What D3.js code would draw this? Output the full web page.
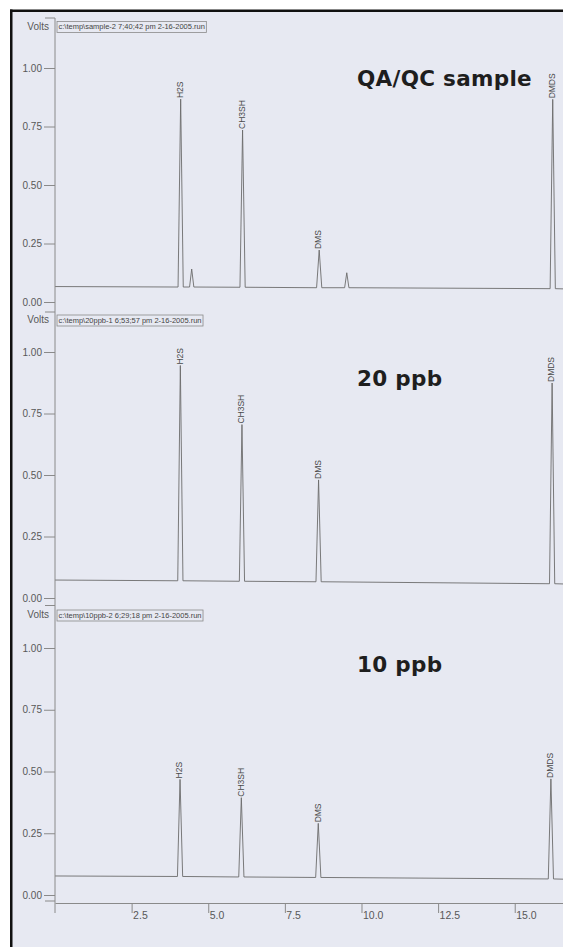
<!DOCTYPE html>
<html>
<head>
<meta charset="utf-8">
<script src="https://cdn.jsdelivr.net/npm/d3@7"></script>
<style>
  html, body { margin: 0; padding: 0; background: #fff; }
  svg { display: block; }
</style>
</head>
<body>
<svg id="chart" width="563" height="947"></svg>
<script>
// ---------------------------------------------------------------------------
// Data

const timeTicks = [2.5, 5.0, 7.5, 10.0, 12.5, 15.0];   // minutes
const voltTicks = [0, 0.25, 0.5, 0.75, 1.0];

const panelTitles = ['QA/QC sample', '20 ppb', '10 ppb'];
const runFiles = [
  'c:\\temp\\sample-2 7;40;42 pm 2-16-2005.run',
  'c:\\temp\\20ppb-1 6;53;57 pm 2-16-2005.run',
  'c:\\temp\\10ppb-2 6;29;18 pm 2-16-2005.run'
];

// baseline readings: [time, volts] at the left and right edge
const baseQA = [[0, 0.066], [16.6, 0.056]];
const base20 = [[0, 0.073], [16.6, 0.057]];
const base10 = [[0, 0.077], [16.6, 0.064]];

// peaks: label (empty = unlabeled), retention time, apex volts, foot volts
const peaksQA = [
  {name: 'H2S',   t: 4.10,  v: 0.867, foot: 0.064},
  {name: '',      t: 4.46,  v: 0.141, foot: 0.064},
  {name: 'CH3SH', t: 6.12,  v: 0.735, foot: 0.063},
  {name: 'DMS',   t: 8.62,  v: 0.222, foot: 0.061},
  {name: '',      t: 9.52,  v: 0.125, foot: 0.061},
  {name: 'DMDS',  t: 16.24, v: 0.866, foot: 0.057}
];
const peaks20 = [
  {name: 'H2S',   t: 4.09,  v: 0.945, foot: 0.070},
  {name: 'CH3SH', t: 6.10,  v: 0.705, foot: 0.068},
  {name: 'DMS',   t: 8.60,  v: 0.480, foot: 0.066},
  {name: 'DMDS',  t: 16.22, v: 0.874, foot: 0.058}
];
const peaks10 = [
  {name: 'H2S',   t: 4.08,  v: 0.468, foot: 0.075},
  {name: 'CH3SH', t: 6.08,  v: 0.394, foot: 0.073},
  {name: 'DMS',   t: 8.59,  v: 0.290, foot: 0.071},
  {name: 'DMDS',  t: 16.18, v: 0.470, foot: 0.065}
];

// ---------------------------------------------------------------------------
// Layout

const width = 563;
const height = 947;
const axisX = 55;
const paper = '#e7e9f2';
const ink = '#585858';
const font = "'Liberation Sans', Arial, sans-serif";

const panels = [
  {base: baseQA, peaks: peaksQA, y0: 302, y1: 68,  top: 18,    voltsY: 27,    titleY: 86},
  {base: base20, peaks: peaks20, y0: 598, y1: 352, top: 312,   voltsY: 320.5, titleY: 386},
  {base: base10, peaks: peaks10, y0: 895, y1: 648, top: 605.5, voltsY: 615.5, titleY: 672}
];

const svg = d3.select('#chart');

svg.append('rect').attr('width', width).attr('height', height).attr('fill', '#fff');
svg.append('rect')
  .attr('x', 10).attr('y', 10)
  .attr('width', width - 10).attr('height', height - 10)
  .attr('fill', paper);

const x = d3.scaleLinear().domain([0, 16.575]).range([axisX, width]);

const line = d3.line()
  .x((d) => x(d[0]))
  .curve(d3.curveLinear);

panels.forEach((p, i) => {
  const y = d3.scaleLinear().domain([0, 1]).range([p.y0, p.y1]);
  const g = svg.append('g').attr('class', 'panel');

  // y axis ticks + labels
  const yAxis = d3.axisLeft(y)
    .tickValues(voltTicks)
    .tickFormat(d3.format('.2f'))
    .tickSize(11)
    .tickPadding(2);
  const ya = g.append('g')
    .attr('transform', `translate(${axisX},0)`)
    .call(yAxis);
  ya.select('.domain').remove();
  ya.selectAll('line').attr('stroke', '#8a8a8a');
  ya.selectAll('text')
    .attr('fill', ink)
    .style('font-family', font)
    .style('font-size', '10px');

  // short tick at top of each panel
  g.append('line')
    .attr('x1', axisX - 10).attr('x2', axisX)
    .attr('y1', p.top).attr('y2', p.top)
    .attr('stroke', '#8a8a8a');

  g.append('text')
    .attr('x', axisX - 6).attr('y', p.voltsY)
    .attr('text-anchor', 'end')
    .attr('dominant-baseline', 'middle')
    .attr('fill', ink)
    .style('font-family', font)
    .style('font-size', '10px')
    .text('Volts');

  // run file box
  const box = g.append('rect')
    .attr('x', axisX + 2).attr('y', p.voltsY - 5.5)
    .attr('height', 11)
    .attr('fill', 'none')
    .attr('stroke', '#8a8a8a')
    .attr('stroke-width', 0.8);
  const ft = g.append('text')
    .attr('x', axisX + 3.5).attr('y', p.voltsY + 0.5)
    .attr('dominant-baseline', 'middle')
    .attr('fill', '#444')
    .style('font-family', font)
    .style('font-size', '7.5px')
    .text(runFiles[i]);
  box.attr('width', ft.node().getComputedTextLength() + 3);

  // title
  g.append('text')
    .attr('x', 357).attr('y', p.titleY)
    .attr('fill', '#1e1e1e')
    .style('font-family', "'DejaVu Sans', Verdana, sans-serif")
    .style('font-weight', 'bold')
    .style('font-size', '21.5px')
    .style('letter-spacing', '0.3px')
    .text(panelTitles[i]);

  // trace: baseline readings plus triangular peaks
  const pts = [p.base[0]];
  p.peaks.forEach((pk) => {
    const hw = pk.name ? 0.085 : 0.07;
    pts.push([pk.t - hw, pk.foot], [pk.t, pk.v], [pk.t + hw, pk.foot]);
  });
  pts.push(p.base[1]);

  g.append('path')
    .datum(pts)
    .attr('d', line.y((d) => y(d[1])))
    .attr('fill', 'none')
    .attr('stroke', '#6c6c6c')
    .attr('stroke-width', 0.9)
    .attr('stroke-linejoin', 'miter');

  // peak labels (rotated, reading upwards from the apex)
  g.selectAll('.peak-label')
    .data(p.peaks.filter((d) => d.name))
    .enter()
    .append('text')
    .attr('class', 'peak-label')
    .attr('transform', (d) => `translate(${x(d.t)},${y(d.v) - 1}) rotate(-90)`)
    .attr('dominant-baseline', 'middle')
    .attr('fill', '#4a4a4a')
    .style('font-family', font)
    .style('font-size', '8.5px')
    .text((d) => d.name);
});

// bottom boundary tick of the last panel
svg.append('line')
  .attr('x1', axisX - 10).attr('x2', axisX)
  .attr('y1', 901).attr('y2', 901)
  .attr('stroke', '#8a8a8a');

// vertical axis line through all three panels
svg.append('line')
  .attr('x1', axisX).attr('x2', axisX)
  .attr('y1', 18).attr('y2', 913)
  .attr('stroke', '#8a8a8a');

// time axis under the last panel
const xAxis = d3.axisBottom(x)
  .tickValues(timeTicks)
  .tickFormat(d3.format('.1f'))
  .tickSize(10)
  .tickSizeOuter(0);
const xa = svg.append('g')
  .attr('transform', 'translate(0,903)')
  .call(xAxis);
xa.select('.domain').attr('stroke', '#8a8a8a');
xa.selectAll('line').attr('stroke', '#8a8a8a');
xa.selectAll('text')
  .attr('fill', ink)
  .attr('text-anchor', 'start')
  .attr('x', 1)
  .attr('y', 9)
  .attr('dy', '0.71em')
  .style('font-family', font)
  .style('font-size', '10.5px');

// scanned page border
svg.append('line')
  .attr('x1', 11.25).attr('x2', 11.25)
  .attr('y1', 9.5).attr('y2', height)
  .attr('stroke', '#111').attr('stroke-width', 2.5);
svg.append('line')
  .attr('x1', 10).attr('x2', width)
  .attr('y1', 10.75).attr('y2', 10.75)
  .attr('stroke', '#111').attr('stroke-width', 2.5);
</script>
</body>
</html>
